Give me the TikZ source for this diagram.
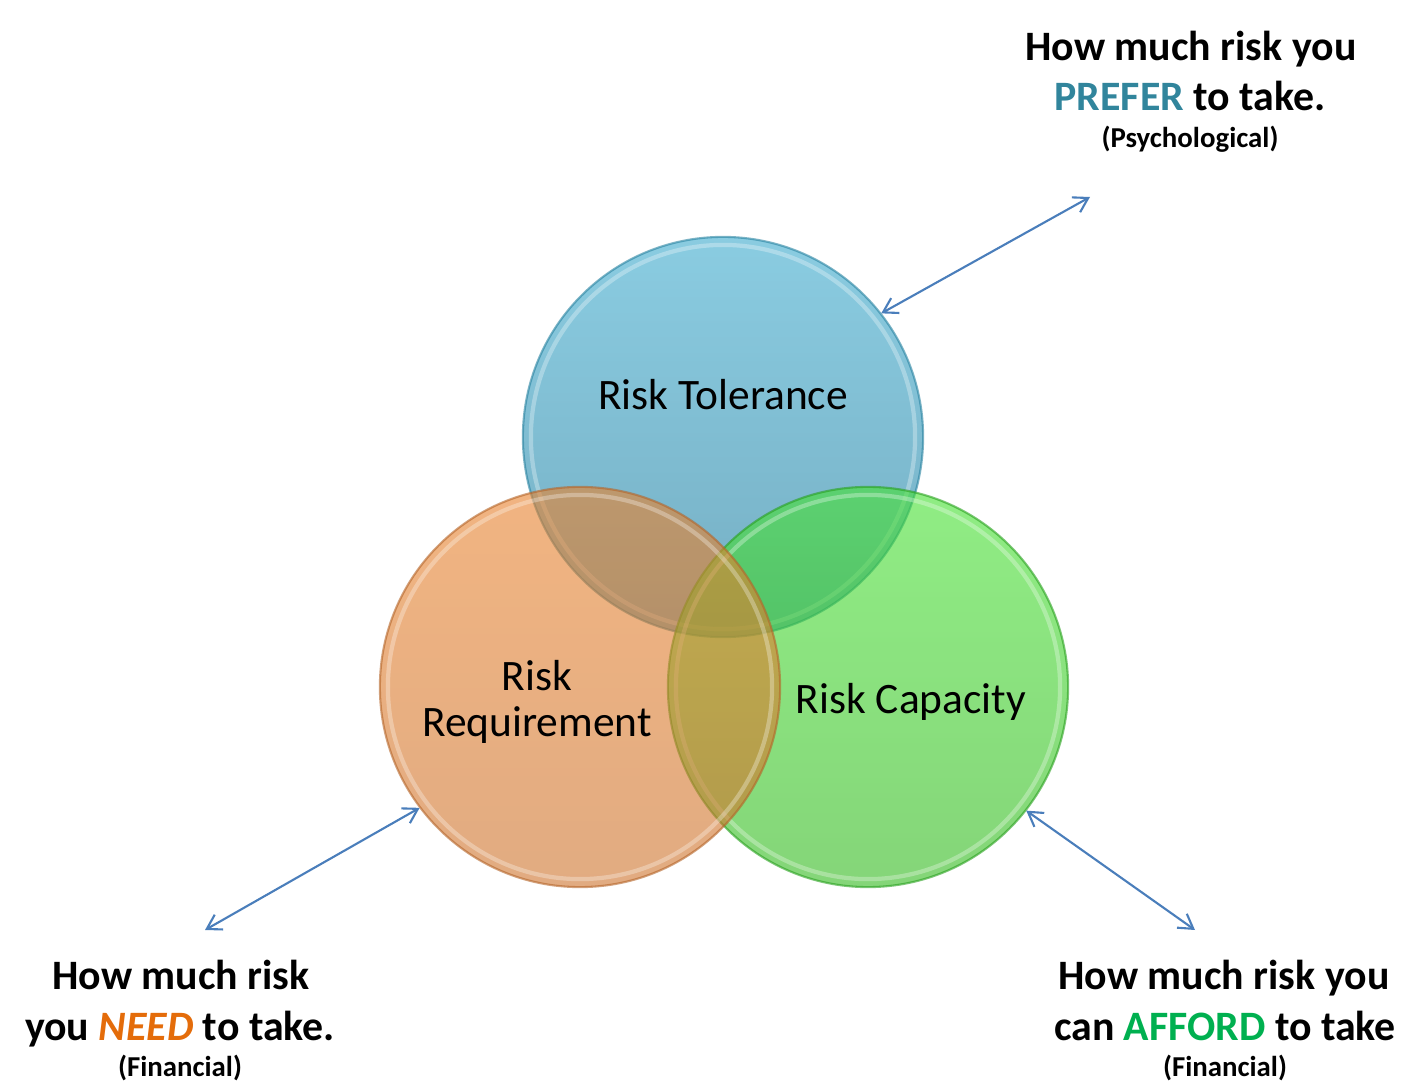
\documentclass[tikz,border=0pt]{standalone}
\usepackage{fontspec}
\setmainfont{Carlito}
\usetikzlibrary{arrows.meta}
\definecolor{tolTop}{RGB}{60,170,205}
\definecolor{tolBot}{RGB}{25,120,155}
\definecolor{tolEdge}{RGB}{40,130,160}
\definecolor{capTop}{RGB}{70,225,50}
\definecolor{capBot}{RGB}{50,185,30}
\definecolor{capEdge}{RGB}{40,160,30}
\definecolor{reqTop}{RGB}{232,130,45}
\definecolor{reqBot}{RGB}{205,115,45}
\definecolor{reqEdge}{RGB}{180,100,40}
\definecolor{arrowC}{RGB}{74,126,187}
\definecolor{preferC}{RGB}{49,133,156}
\definecolor{needC}{RGB}{228,108,10}
\definecolor{affordC}{RGB}{0,176,80}
\tikzset{
  bubble/.style={circle, minimum size=4cm, inner sep=0pt},
  conn/.style={draw=arrowC, line width=0.6pt, {Straight Barb[length=1.4mm,width=1.7mm]}-{Straight Barb[length=1.4mm,width=1.7mm]}},
  big/.style={font=\bfseries\fontsize{11.9}{14.2}\selectfont, anchor=base, inner sep=0pt},
  small/.style={font=\bfseries\fontsize{8.2}{10}\selectfont, anchor=base, inner sep=0pt},
  lbl/.style={font=\fontsize{12.35}{13.7}\selectfont, anchor=base, inner sep=0pt, align=center},
}
\begin{document}
\begin{tikzpicture}[x=0.01cm,y=-0.01cm]
\useasboundingbox (0,0) rectangle (1423,1085);
% circles (nodes)
\node[bubble] (tol) at (723,437) {};
\node[bubble] (cap) at (868,687) {};
\node[bubble] (req) at (580,687) {};
% fills: blue, green, orange (orange on top)
\shade[top color=tolTop, bottom color=tolBot, fill opacity=0.6] (tol.center) circle[radius=2cm];
\draw[tolEdge, draw opacity=0.6, line width=0.6pt] (tol.center) circle[radius=2cm];
\draw[white, draw opacity=0.3, line width=1.2pt] (tol.center) circle[radius=1.92cm];
\shade[top color=capTop, bottom color=capBot, fill opacity=0.6] (cap.center) circle[radius=2cm];
\draw[capEdge, draw opacity=0.6, line width=0.6pt] (cap.center) circle[radius=2cm];
\draw[white, draw opacity=0.3, line width=1.2pt] (cap.center) circle[radius=1.92cm];
\shade[top color=reqTop, bottom color=reqBot, fill opacity=0.6] (req.center) circle[radius=2cm];
\draw[reqEdge, draw opacity=0.6, line width=0.6pt] (req.center) circle[radius=2cm];
\draw[white, draw opacity=0.3, line width=1.2pt] (req.center) circle[radius=1.92cm];
% circle labels
\node[lbl] (tolL) at (723,410) {Risk Tolerance};
\node[lbl] (reqL1) at (537,690) {Risk};
\node[lbl] (reqL2) at (537,737) {Requirement};
\node[lbl] (capL) at (911,714) {Risk Capacity};
% arrow end points
\coordinate (trEnd) at (1090,197);
\coordinate (blEnd) at (205,930);
\coordinate (brEnd) at (1195,930);
\draw[conn] (tol.38) -- (trEnd);
\draw[conn] (req.217) -- (blEnd);
\draw[conn] (cap.322) -- (brEnd);
% texts top right
\node[big] (t1) at (1191,61) {How much risk you};
\node[big] (t2) at (1190,111) {\textcolor{preferC}{PREFER} to take.};
\node[small] (t3) at (1190,148) {(Psychological)};
% bottom left
\node[big] (l1) at (181,989) {How much risk};
\node[big] (l2) at (180,1040) {you \textcolor{needC}{\itshape NEED} to take.};
\node[small] (l3) at (180,1077) {(Financial)};
% bottom right
\node[big] (r1) at (1224,989) {How much risk you};
\node[big] (r2) at (1225,1040) {can \textcolor{affordC}{AFFORD} to take};
\node[small] (r3) at (1225,1077) {(Financial)};
\end{tikzpicture}
\end{document}
